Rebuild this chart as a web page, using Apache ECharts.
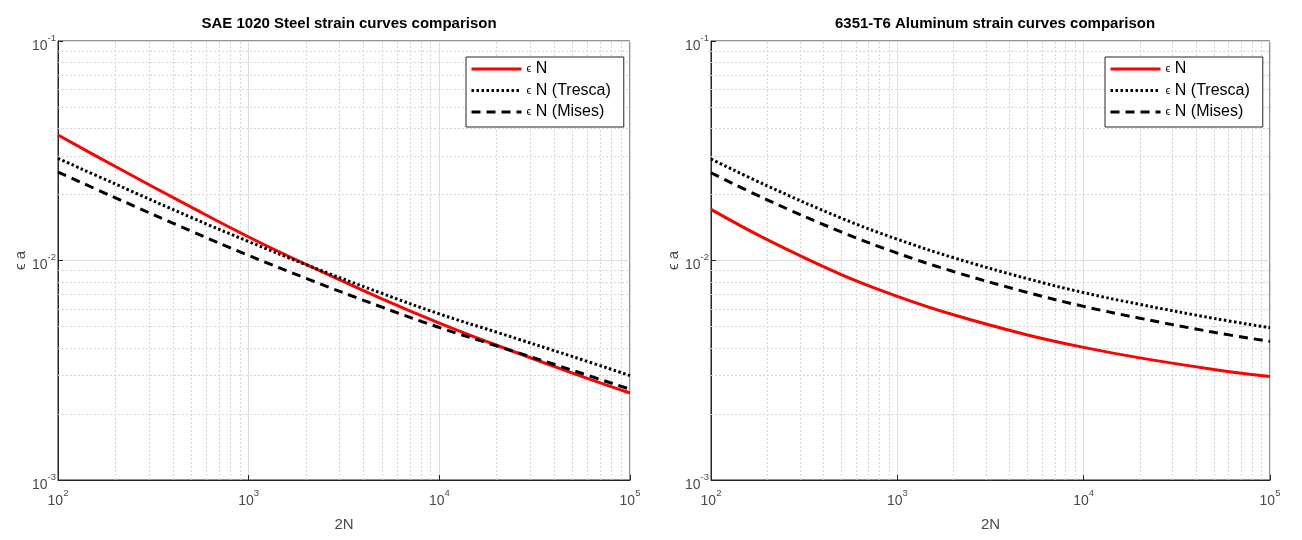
<!DOCTYPE html>
<html>
<head>
    <meta charset="UTF-8">
    <title></title>
    <script type="text/javascript" src="https://cdn.jsdelivr.net/npm/echarts@6/dist/echarts.min.js"></script>
    <style>
        body { margin: 0; background: #fff; }
    </style>
</head>
<body>

<div id="main" style="height: 540px; width: 1302px;"></div>
<script type="text/javascript">

    // 2N sample points (cycles)
    var cycles = [100, 200, 500, 1000, 2000, 5000, 10000, 20000, 50000, 100000];

    // SAE 1020 steel
    var steelStrain = [0.0373, 0.0268, 0.0175, 0.0128, 0.0096, 0.00669, 0.00519, 0.00411, 0.00307, 0.00249];
    var steelTresca = [0.0292, 0.0223, 0.0157, 0.0122, 0.00957, 0.00708, 0.00571, 0.00471, 0.00365, 0.00299];
    var steelMises = [0.0253, 0.0193, 0.0136, 0.01055, 0.00829, 0.00613, 0.00495, 0.00408, 0.00316, 0.00259];

    // 6351-T6 aluminum
    var aluStrain = [0.0171, 0.01245, 0.00863, 0.00687, 0.00566, 0.00458, 0.00402, 0.0036, 0.00319, 0.00296];
    var aluTresca = [0.029, 0.0219, 0.0156, 0.0125, 0.0103, 0.00826, 0.00714, 0.00631, 0.00545, 0.00494];
    var aluMises = [0.0251, 0.0189, 0.0135, 0.0108, 0.00891, 0.00715, 0.00618, 0.00546, 0.00471, 0.00428];

    // minor grid positions
    var minorX = [200, 300, 400, 500, 600, 700, 800, 900,
                  2000, 3000, 4000, 5000, 6000, 7000, 8000, 9000,
                  20000, 30000, 40000, 50000, 60000, 70000, 80000, 90000];
    var minorY = [0.002, 0.003, 0.004, 0.005, 0.006, 0.007, 0.008, 0.009,
                  0.02, 0.03, 0.04, 0.05, 0.06, 0.07, 0.08, 0.09];

    var names = ['\u03f5 N', '\u03f5 N (Tresca)', '\u03f5 N (Mises)'];

    function pairs(ys) {
        var res = [];
        for (var i = 0; i < cycles.length; i++) res.push([cycles[i], ys[i]]);
        return res;
    }

    function powLabel(v) {
        var e = Math.round(Math.log10(v));
        return '{b|10}{s|' + e + '}';
    }

    var labelRich = {
        b: { fontSize: 14, lineHeight: 20, verticalAlign: 'bottom', color: '#4a4a4a', fontFamily: 'Liberation Sans' },
        s: { fontSize: 9.5, lineHeight: 10, verticalAlign: 'top', color: '#4a4a4a', fontFamily: 'Liberation Sans' }
    };

    function xAxisOf(idx) {
        return {
            type: 'log', logBase: 10, gridIndex: idx,
            min: 100, max: 100000,
            name: '2N', nameLocation: 'middle', nameGap: 37,
            nameTextStyle: { fontSize: 15, color: '#4a4a4a', fontFamily: 'Liberation Sans' },
            axisLine: { lineStyle: { color: '#262626' } },
            axisTick: { inside: true, length: 5, lineStyle: { color: '#262626' } },
            axisLabel: { formatter: powLabel, rich: labelRich, margin: 8 },
            splitLine: { show: true, lineStyle: { color: '#dedede', width: 1 } }
        };
    }

    function yAxisOf(idx) {
        return {
            type: 'log', logBase: 10, gridIndex: idx,
            min: 0.001, max: 0.1,
            name: '\u03f5 a', nameLocation: 'middle', nameGap: 25,
            nameTextStyle: { fontSize: 15, color: '#4a4a4a', fontFamily: 'Liberation Sans' },
            axisLine: { lineStyle: { color: '#262626' } },
            axisTick: { inside: true, length: 5, lineStyle: { color: '#262626' } },
            axisLabel: { formatter: powLabel, rich: labelRich, margin: 2, padding: [4, 0, 0, 0] },
            splitLine: { show: true, lineStyle: { color: '#dedede', width: 1 } }
        };
    }

    // dotted minor grid drawn through the axes' own scales
    function minorSeries(idx) {
        var segs = [];
        minorX.forEach(function (v) { segs.push({ coords: [[v, 0.001], [v, 0.1]] }); });
        minorY.forEach(function (v) { segs.push({ coords: [[100, v], [100000, v]] }); });
        return {
            type: 'lines', coordinateSystem: 'cartesian2d',
            xAxisIndex: idx, yAxisIndex: idx,
            silent: true, z: 1, animation: false,
            lineStyle: { color: '#d4d4d4', type: [2, 2], width: 1, opacity: 1 },
            data: segs
        };
    }

    function curve(idx, name, ys, color, type) {
        return {
            name: name, type: 'line', xAxisIndex: idx, yAxisIndex: idx,
            data: pairs(ys), smooth: 0.4, symbol: 'none', z: 3,
            lineStyle: { color: color, width: 3, type: type, cap: 'butt' },
            itemStyle: { color: color }
        };
    }

    function legendOf(left) {
        return {
            data: names, orient: 'vertical', left: left, top: 57,
            itemWidth: 50, itemHeight: 14, itemGap: 5.5,
            padding: [4, 13, 7, 4],
            backgroundColor: '#fff', borderColor: '#262626', borderWidth: 1, borderRadius: 0,
            selectedMode: false,
            itemStyle: { opacity: 0 },
            lineStyle: { width: 3 },
            textStyle: {
                fontSize: 16, lineHeight: 14, color: '#000', fontFamily: 'Liberation Sans',
                rich: { e: { fontSize: 11, color: '#000' } }
            },
            formatter: function (n) { return '{e|\u03f5}' + n.slice(1); }
        };
    }

    var myChart = echarts.init(document.getElementById('main'));

    var option = {
        animation: false,
        title: [{
            text: 'SAE 1020 Steel strain curves comparison',
            left: 344, top: 11, textAlign: 'center',
            textStyle: { fontSize: 15, fontWeight: 'bold', color: '#000', fontFamily: 'Liberation Sans' }
        }, {
            text: '6351-T6 Aluminum strain curves comparison',
            left: 990, top: 11, textAlign: 'center',
            textStyle: { fontSize: 15, fontWeight: 'bold', color: '#000', fontFamily: 'Liberation Sans' }
        }],
        legend: [legendOf(466), legendOf(1105)],
        grid: [
            { left: 58, right: 672, top: 41, bottom: 60, show: true, borderColor: '#262626', borderWidth: 1 },
            { left: 711, right: 32, top: 41, bottom: 60, show: true, borderColor: '#262626', borderWidth: 1 }
        ],
        xAxis: [xAxisOf(0), xAxisOf(1)],
        yAxis: [yAxisOf(0), yAxisOf(1)],
        series: [
            minorSeries(0),
            minorSeries(1),
            curve(0, names[0], steelStrain, '#ff0000', 'solid'),
            curve(0, names[1], steelTresca, '#000000', [2.5, 2.5]),
            curve(0, names[2], steelMises, '#000000', [9, 6]),
            curve(1, names[0], aluStrain, '#ff0000', 'solid'),
            curve(1, names[1], aluTresca, '#000000', [2.5, 2.5]),
            curve(1, names[2], aluMises, '#000000', [9, 6])
        ]
    };

    myChart.setOption(option);

</script>

</body>
</html>
